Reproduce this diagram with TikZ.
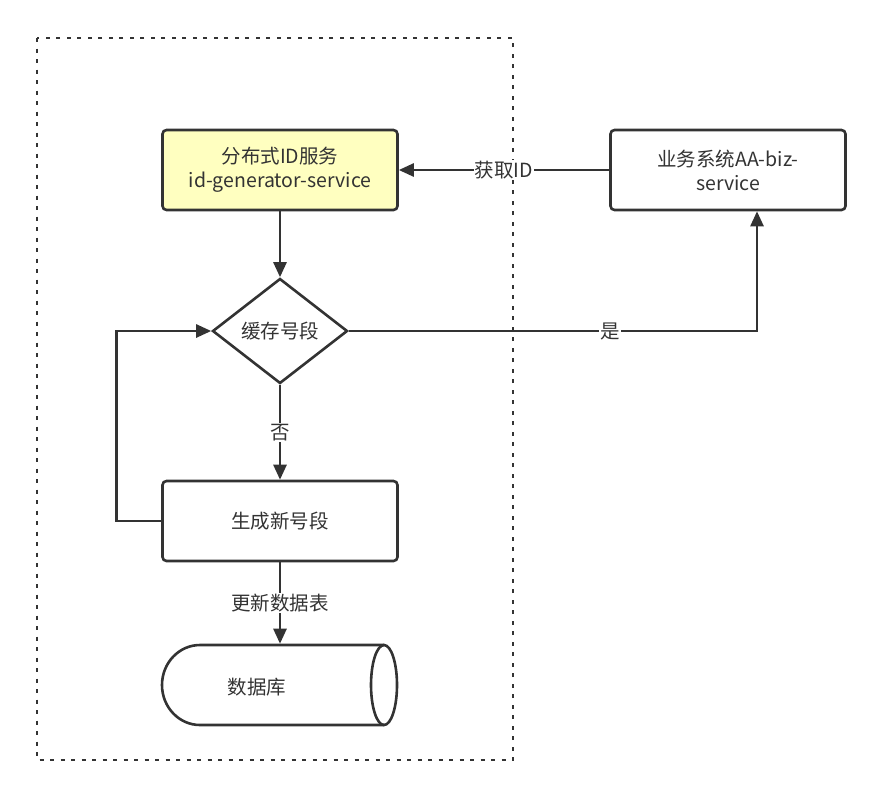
\documentclass[tikz,border=0pt]{standalone}
\usepackage{fontspec}
\setmainfont{Noto Sans CJK SC}
\usetikzlibrary{positioning,arrows.meta,shapes.geometric}
\definecolor{inkgray}{HTML}{333333}
\definecolor{noteyellow}{HTML}{FFFFC0}

\begin{document}
\begin{tikzpicture}[x=1pt, y=-1pt, line width=2.6pt, draw=inkgray,
        every node/.style={text=inkgray, font=\fontsize{19.5}{24}\selectfont},
        box/.style={draw=inkgray, rounded corners=4pt, minimum width=235pt, minimum height=80pt, align=center},
        decision/.style={diamond, draw=inkgray, minimum width=135pt, minimum height=105pt, inner sep=0pt, aspect=1.29},
        label_style/.style={fill=white, inner sep=1pt},
        edge_style/.style={draw=inkgray, -{Triangle[length=15pt,width=13pt]}}]
        \useasboundingbox (0,0) rectangle (885,798);
        % service frame
        \draw[inkgray, line width=2.8pt, dash pattern=on 4pt off 6.5pt] (37,38) rectangle (513,760);
        \node[box, fill=noteyellow] (idsvc) at (280,170) {分布式ID服务\\id-generator-service};
        \node[box] (biz) at (728,170) {业务系统AA-biz-\\service};
        \node[decision] (cache) at (280,331) {缓存号段};
        \node[box] (gen) at (280,521) {生成新号段};
        % database cylinder
        \node[minimum width=235pt, minimum height=80pt] (db) at (280,685) {};
        \draw (384,645) -- (200,645) arc[start angle=90, end angle=270, x radius=38pt, y radius=40pt] -- (384,725);
        \draw (384,685) ellipse[x radius=13pt, y radius=40pt];
        \node (dbtext) at (257,687) {数据库};
        % connectors
        \draw[edge_style] (biz) -- node[label_style] {获取ID} (idsvc);
        \draw[edge_style] (idsvc) -- (cache);
        \draw[edge_style] (cache) -| node[label_style, pos=0.32] {是} ([xshift=29pt]biz.south);
        \draw[edge_style] (cache) -- node[label_style] {否} (gen);
        \draw[edge_style] (gen.west) -- ++(-45,0) |- (cache.west);
        \draw[edge_style] (gen) -- node[label_style] {更新数据表} (db.north);
      \end{tikzpicture}
\end{document}
